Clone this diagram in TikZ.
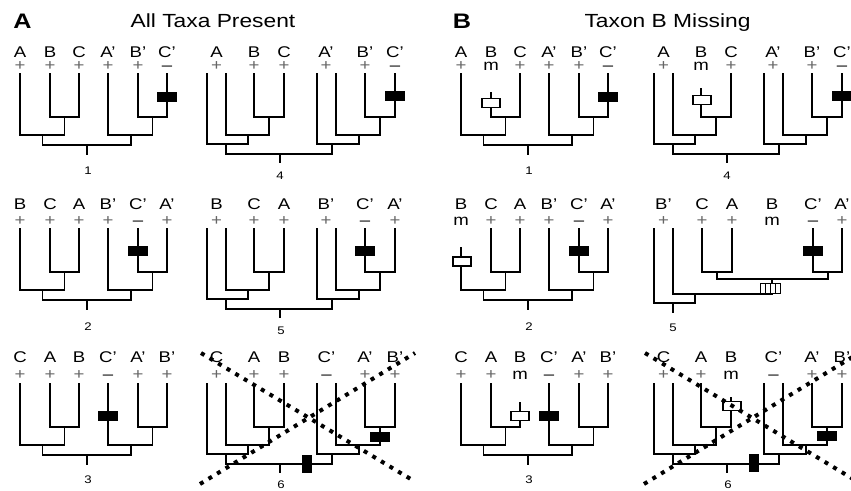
\documentclass[tikz,border=0pt]{standalone}
\usepackage{fontspec}
\setmainfont{Liberation Sans}[FakeStretch=1.2]
\tikzset{
  br/.style={line width=1.9pt, line join=miter},
  lbl/.style={anchor=base, inner sep=0pt, font=\fontsize{15.5}{16}\selectfont},
  sgn/.style={anchor=base, inner sep=0pt, font=\fontsize{15.5}{16}\selectfont},
  num/.style={anchor=base, inner sep=0pt, font=\fontsize{11}{12}\selectfont},
  bbox/.style={fill=black, draw=none, minimum width=20pt, minimum height=10pt, inner sep=0pt},
  tbox/.style={fill=black, draw=none, minimum width=10pt, minimum height=18pt, inner sep=0pt},
  wbox/.style={fill=white, draw=black, line width=1.3pt, minimum width=18pt, minimum height=9pt, inner sep=0pt},
  xdots/.style={line width=4pt, dash pattern=on 4pt off 6pt},
}
\newcommand\pl{\textcolor{black!60}{+}}
\newcommand\mi{–}
% label + sign at row heights \ly (label baseline) and \sy (sign baseline)
\newcommand\tx[4]{\node[lbl] (#1) at (#2,\ly) {#3}; \node[sgn] (#1s) at (#2,\sy) {#4};}
% tree type T: ((t1,(t2,t3)),(t4,(t5,t6)))
\newcommand\treeT[5]{%
\begin{scope}[shift={(#1,#2)}]
\draw[br] (50,#4) |- (79,44) -- (79,#5);
\draw[br] (20,#3) |- (64.5,62) -- (64.5,44);
\draw[br] (138,0) |- (167,44) -- (167,0);
\draw[br] (108,0) |- (152.5,62) -- (152.5,44);
\draw[br] (42.5,62) |- (131,72) -- (131,62);
\draw[br] (87,72) -- (87,82);
\end{scope}}
% tree type U: eight lineages
\newcommand\treeU[4]{%
\begin{scope}[shift={(#1,#2)}]
\draw[br] (254,#3) |- (284,44) -- (284,#4);
\draw[br] (226,0) |- (269,62) -- (269,44);
\draw[br] (207,0) |- (248,71) -- (248,62);
\draw[br] (365,0) |- (395,44) -- (395,0);
\draw[br] (336,0) |- (380,62) -- (380,44);
\draw[br] (317,0) |- (359,71) -- (359,62);
\draw[br] (226,71) |- (332,81) -- (332,71);
\draw[br] (280,81) -- (280,90);
\end{scope}}
\begin{document}
\begin{tikzpicture}[x=1pt,y=-1pt]
\useasboundingbox (0,0) rectangle (851,490);
% titles
\node[anchor=base, inner sep=0pt, font=\bfseries\fontsize{21}{22}\selectfont] (tA) at (22.5,28) {A};
\node[anchor=base, inner sep=0pt, font=\fontsize{19}{20}\selectfont] (ttlA) at (213,27) {All Taxa Present};
\node[anchor=base, inner sep=0pt, font=\bfseries\fontsize{21}{22}\selectfont] (tB) at (462,28) {B};
\node[anchor=base, inner sep=0pt, font=\fontsize{19}{20}\selectfont] (ttlB) at (667.5,27) {Taxon B Missing};

% ---------- trees ----------
\treeT{0}{73}{0}{0}{0}
\treeU{0}{73}{0}{0}
\treeT{0}{228}{0}{0}{0}
\treeU{0}{228}{0}{0}
\treeT{0}{383}{0}{0}{0}
\treeU{0}{383}{0}{0}
\treeT{441}{73}{0}{19}{0}
\treeU{447}{73}{15}{0}
\treeT{441}{228}{19}{0}{0}
\treeT{441}{383}{0}{0}{19}
\treeU{447}{383}{0}{14}
% tree B5
\draw[br] (702,228) |- (732,272) -- (732,228);
\draw[br] (813,228) |- (842,272) -- (842,228);
\draw[br] (717,272) |- (828,279) -- (828,272);
\draw[br] (673,228) |- (772,294) -- (772,279);
\draw[br] (654,228) |- (695,303) -- (695,294);
\draw[br] (673,303) -- (673,313);

% ---------- boxes ----------
\node[bbox] (k1) at (167,97) {};
\node[bbox] (k4) at (395,96) {};
\node[bbox] (k2) at (138,251) {};
\node[bbox] (k5) at (365,251) {};
\node[bbox] (k3) at (108,416) {};
\node[bbox] (k6) at (380,437) {};
\node[tbox] (k6t) at (307,464) {};
\node[bbox] (kb1) at (608,97) {};
\node[bbox] (kb4) at (842,96) {};
\node[bbox] (kb2) at (579,251) {};
\node[bbox] (kb5) at (813,251) {};
\node[bbox] (kb3) at (549,416) {};
\node[bbox] (kb6) at (827,436) {};
\node[tbox] (kb6t) at (754,463) {};
\node[wbox] (w1) at (491,103) {};
\node[wbox] (w4) at (702,100) {};
\node[wbox] (w2) at (462,261.5) {};
\node[wbox] (w3) at (520,416) {};
\node[wbox] (w6) at (732,406) {};
\node[wbox, minimum width=20pt, minimum height=10pt, line width=1pt] (h5) at (770.5,288.5) {};
\draw[line width=1pt] (765.5,283.5) -- (765.5,293.5) (770.5,283.5) -- (770.5,293.5) (775.5,283.5) -- (775.5,293.5);

% ---------- labels ----------
\def\ly{57}\def\sy{70}
\tx{a1a}{20}{A}{\pl}\tx{a1b}{50}{B}{\pl}\tx{a1c}{79}{C}{\pl}
\tx{a1d}{108}{A’}{\pl}\tx{a1e}{138}{B’}{\pl}\tx{a1f}{167}{C’}{\mi}
\tx{a4a}{216.5}{A}{\pl}\tx{a4b}{254}{B}{\pl}\tx{a4c}{284}{C}{\pl}
\tx{a4d}{326}{A’}{\pl}\tx{a4e}{365}{B’}{\pl}\tx{a4f}{395}{C’}{\mi}
\tx{b1a}{461}{A}{\pl}\tx{b1b}{491}{B}{m}\tx{b1c}{520}{C}{\pl}
\tx{b1d}{549}{A’}{\pl}\tx{b1e}{579}{B’}{\pl}\tx{b1f}{608}{C’}{\mi}
\tx{b4a}{663.5}{A}{\pl}\tx{b4b}{701}{B}{m}\tx{b4c}{731}{C}{\pl}
\tx{b4d}{773}{A’}{\pl}\tx{b4e}{812}{B’}{\pl}\tx{b4f}{842}{C’}{\mi}

\def\ly{209}\def\sy{225}
\tx{a2a}{20}{B}{\pl}\tx{a2b}{50}{C}{\pl}\tx{a2c}{79}{A}{\pl}
\tx{a2d}{108}{B’}{\pl}\tx{a2e}{138}{C’}{\mi}\tx{a2f}{167}{A’}{\pl}
\tx{a5a}{216.5}{B}{\pl}\tx{a5b}{254}{C}{\pl}\tx{a5c}{284}{A}{\pl}
\tx{a5d}{326}{B’}{\pl}\tx{a5e}{365}{C’}{\mi}\tx{a5f}{395}{A’}{\pl}
\tx{b2a}{461}{B}{m}\tx{b2b}{491}{C}{\pl}\tx{b2c}{520}{A}{\pl}
\tx{b2d}{549}{B’}{\pl}\tx{b2e}{579}{C’}{\mi}\tx{b2f}{608}{A’}{\pl}
\tx{b5a}{663.5}{B’}{\pl}\tx{b5b}{702}{C}{\pl}\tx{b5c}{732}{A}{\pl}
\tx{b5d}{772}{B}{m}\tx{b5e}{813}{C’}{\mi}\tx{b5f}{842}{A’}{\pl}

\def\ly{362}\def\sy{379}
\tx{a3a}{20}{C}{\pl}\tx{a3b}{50}{A}{\pl}\tx{a3c}{79}{B}{\pl}
\tx{a3d}{108}{C’}{\mi}\tx{a3e}{138}{A’}{\pl}\tx{a3f}{167}{B’}{\pl}
\tx{a6a}{216.5}{C}{\pl}\tx{a6b}{254}{A}{\pl}\tx{a6c}{284}{B}{\pl}
\tx{a6d}{326.5}{C’}{\mi}\tx{a6e}{365}{A’}{\pl}\tx{a6f}{395}{B’}{\pl}
\tx{b3a}{461}{C}{\pl}\tx{b3b}{491}{A}{\pl}\tx{b3c}{520}{B}{m}
\tx{b3d}{549}{C’}{\mi}\tx{b3e}{579}{A’}{\pl}\tx{b3f}{608}{B’}{\pl}
\tx{b6a}{663.5}{C}{\pl}\tx{b6b}{701}{A}{\pl}\tx{b6c}{731}{B}{m}
\tx{b6d}{773.5}{C’}{\mi}\tx{b6e}{812}{A’}{\pl}\tx{b6f}{842}{B’}{\pl}

% ---------- numbers ----------
\node[num] (n1) at (88,174) {1};
\node[num] (n4) at (280,179) {4};
\node[num] (n2) at (88,330) {2};
\node[num] (n5) at (281,334) {5};
\node[num] (n3) at (88,483) {3};
\node[num] (n6) at (281,488) {6};
\node[num] (m1) at (529,174) {1};
\node[num] (m4) at (727,179) {4};
\node[num] (m2) at (529,330) {2};
\node[num] (m5) at (673,331) {5};
\node[num] (m3) at (529,483) {3};
\node[num] (m6) at (728,488) {6};

% ---------- crossing-out ----------
\coordinate (xa1) at (201,353); \coordinate (xa2) at (414,481);
\coordinate (xa3) at (200,484); \coordinate (xa4) at (415,353);
\draw[xdots] (xa1) -- (xa2);
\draw[xdots] (xa3) -- (xa4);
\coordinate (xb1) at (645,353); \coordinate (xb2) at (858,482);
\coordinate (xb3) at (644,484); \coordinate (xb4) at (859,353);
\draw[xdots] (xb1) -- (xb2);
\draw[xdots] (xb3) -- (xb4);
\end{tikzpicture}
\end{document}
